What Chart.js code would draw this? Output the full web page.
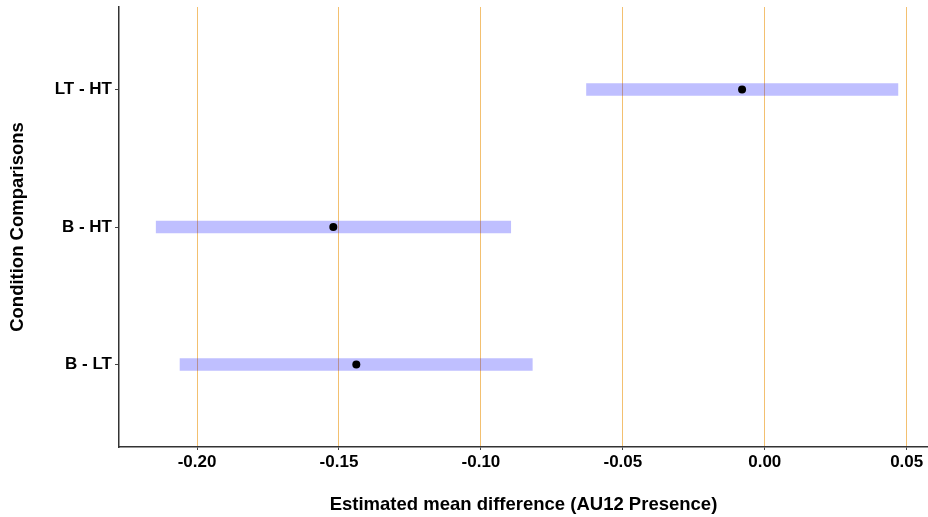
<!DOCTYPE html>
<html>
<head>
<meta charset="utf-8">
<script src="https://cdn.jsdelivr.net/npm/chart.js@4.4.1/dist/chart.umd.min.js"></script>
<style>
    html, body { margin: 0; padding: 0; background: #ffffff; }
    canvas { display: block; }
</style>
</head>
<body>
<canvas id="meanDiffChart" width="928" height="517"></canvas>
<script>
    // Pairwise condition comparisons, bottom to top
    const comparisons = ['B - LT', 'B - HT', 'LT - HT'];
    const comparisonPos = [1, 2, 3];
    const estimates = [-0.1439, -0.1520, -0.0080];
    const lowerCI = [-0.2060, -0.2144, -0.0628];
    const upperCI = [-0.0819, -0.0895, 0.0469];
    const xTickValues = [-0.20, -0.15, -0.10, -0.05, 0.00, 0.05];

    const FONT = "'Liberation Sans', Arial, sans-serif";

    const intervals = comparisonPos.map((y, i) => ({ x: [lowerCI[i], upperCI[i]], y }));
    const points = comparisonPos.map((y, i) => ({ x: estimates[i], y }));

    const ctx = document.getElementById('meanDiffChart').getContext('2d');

    new Chart(ctx, {
        data: {
            datasets: [
                {
                    type: 'bar',
                    indexAxis: 'y',
                    data: intervals,
                    backgroundColor: 'rgba(0, 0, 255, 0.25)',
                    borderWidth: 0,
                    barThickness: 12,
                    order: 1,
                },
                {
                    type: 'scatter',
                    data: points,
                    backgroundColor: '#000000',
                    borderWidth: 0,
                    pointRadius: 4,
                    showLine: false,
                    order: 0,
                },
            ],
        },
        options: {
            responsive: false,
            animation: false,
            layout: {
                autoPadding: false,
                padding: { left: 0, right: 0, top: 7, bottom: 0 },
            },
            plugins: {
                legend: { display: false },
                tooltip: { enabled: false },
            },
            scales: {
                x: {
                    type: 'linear',
                    min: -0.2275,
                    max: 0.0575,
                    offset: false,
                    afterBuildTicks: (scale) => {
                        scale.ticks = xTickValues.map((v) => ({ value: v }));
                    },
                    afterFit: (scale) => {
                        scale.height = 70;
                        scale.paddingLeft = 0;
                        scale.paddingRight = 0;
                    },
                    border: { color: '#333333', width: 1.5 },
                    grid: {
                        color: 'rgb(243, 192, 112)',
                        lineWidth: 1,
                        tickColor: '#444444',
                        tickLength: 3,
                    },
                    ticks: {
                        color: '#000000',
                        padding: 2,
                        font: { family: FONT, size: 17, weight: 'bold' },
                        callback: (value) => Number(value).toFixed(2),
                    },
                    title: {
                        display: true,
                        text: 'Estimated mean difference (AU12 Presence)',
                        color: '#000000',
                        font: { family: FONT, size: 18.5, weight: 'bold' },
                        padding: { top: 0, bottom: 1 },
                    },
                },
                y: {
                    type: 'linear',
                    min: 0.4,
                    max: 3.6,
                    offset: false,
                    afterBuildTicks: (scale) => {
                        scale.ticks = comparisonPos.map((v) => ({ value: v }));
                    },
                    afterFit: (scale) => {
                        scale.width = 119;
                        scale.paddingTop = 0;
                        scale.paddingBottom = 0;
                    },
                    border: { color: '#333333', width: 1.5 },
                    grid: {
                        offset: false,
                        drawOnChartArea: false,
                        tickColor: '#444444',
                        tickLength: 4,
                    },
                    ticks: {
                        color: '#000000',
                        padding: 3,
                        font: { family: FONT, size: 17, weight: 'bold' },
                        callback: (value) => comparisons[comparisonPos.indexOf(value)] || '',
                    },
                    title: {
                        display: true,
                        text: 'Condition Comparisons',
                        color: '#000000',
                        font: { family: FONT, size: 18.5, weight: 'bold' },
                        padding: { top: 7, bottom: 0 },
                    },
                },
            },
        },
    });
</script>
</body>
</html>
